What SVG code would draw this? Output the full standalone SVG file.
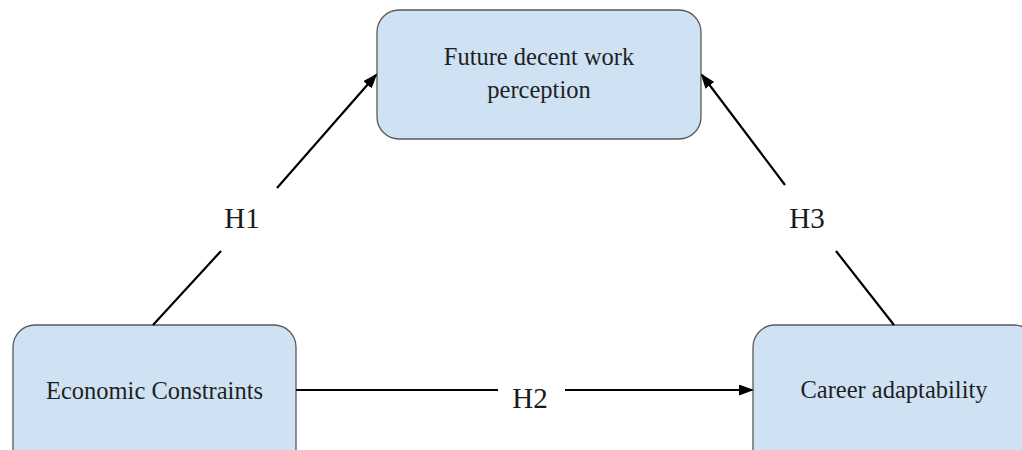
<svg xmlns="http://www.w3.org/2000/svg" width="1022" height="450" viewBox="0 0 1022 450">
  <style>
    .box { fill: #cfe2f3; stroke: #595959; stroke-width: 1.3; }
    .ntext { font-family: "Liberation Serif", "Times New Roman", serif; font-size: 24.5px; fill: #1f1f1f; text-anchor: middle; }
    .htext { font-family: "Liberation Serif", "Times New Roman", serif; font-size: 29px; fill: #1a1a1a; text-anchor: middle; }
    .conn { fill: none; stroke: #000; stroke-width: 2.2; }
  </style>
  <defs>
    <marker id="arrow" markerUnits="userSpaceOnUse" markerWidth="16" markerHeight="12" refX="13" refY="5.5" orient="auto">
      <path d="M0,0 L15,5.5 L0,11 z" fill="#000"/>
    </marker>
  </defs>
  <rect width="1022" height="450" fill="#ffffff"/>

  <g id="node-future">
    <rect class="box" x="377" y="10" width="324" height="129" rx="22" ry="22"/>
    <text class="ntext" x="539" y="65">Future decent work</text>
    <text class="ntext" x="539" y="98">perception</text>
  </g>

  <g id="node-economic">
    <rect class="box" x="13" y="325" width="283" height="160" rx="22" ry="22"/>
    <text class="ntext" x="154.5" y="399">Economic Constraints</text>
  </g>

  <g id="node-career">
    <rect class="box" x="753" y="325" width="283" height="160" rx="22" ry="22"/>
    <text class="ntext" x="894" y="398">Career adaptability</text>
  </g>

  <g id="connectors">
    <path class="conn" d="M153,325 L221,251 M277,188 L376,75" marker-end="url(#arrow)"/>
    <text class="htext" x="242" y="228">H1</text>
    <path class="conn" d="M296,390 L498,390 M565,390 L752,390" marker-end="url(#arrow)"/>
    <text class="htext" x="530" y="408">H2</text>
    <path class="conn" d="M894,325 L836,251 M785,185 L702,75" marker-end="url(#arrow)"/>
    <text class="htext" x="807" y="228">H3</text>
  </g>
</svg>
